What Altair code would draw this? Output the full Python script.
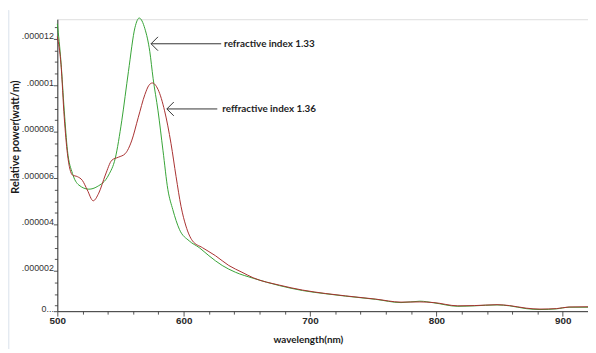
import altair as alt
import pandas as pd

# ---- data (wavelength in nm, power in watt/m) ----
green_wl = [500, 502.9, 505.5, 508, 512, 517, 525, 531.5, 540.6, 545.8, 551, 556.3,
            561.5, 564.8, 569.3, 573.2, 575.8, 579.7, 583.6, 587.5, 591.4, 596.6,
            604.4, 612.3, 620, 630.5, 640.9, 655, 676, 694, 712.5, 728, 752, 772,
            787, 798, 817, 830, 848, 858, 871, 882, 895, 905, 920]
green_pw = [12.65e-6, 11.0e-6, 8.9e-6, 7.2e-6, 6.2e-6, 5.7e-6, 5.52e-6, 5.63e-6, 6.13e-6,
            6.84e-6, 8.47e-6, 10.6e-6, 12.5e-6, 12.9e-6, 12.44e-6, 11.45e-6, 10.3e-6,
            8.9e-6, 7.2e-6, 5.5e-6, 4.64e-6, 3.79e-6, 3.29e-6, 3.0e-6, 2.65e-6, 2.23e-6,
            1.94e-6, 1.68e-6, 1.36e-6, 1.15e-6, 1.01e-6, 0.91e-6, 0.77e-6, 0.63e-6,
            0.69e-6, 0.62e-6, 0.47e-6, 0.49e-6, 0.53e-6, 0.49e-6, 0.37e-6, 0.33e-6,
            0.36e-6, 0.43e-6, 0.43e-6]

red_wl = [500, 502.9, 505.5, 508, 512, 515.9, 519.8, 523.7, 528.4, 532.8, 538, 543.2,
          548.4, 553.7, 558.8, 564, 569.3, 572.5, 575.2, 579.7, 584.9, 590, 594, 597.9,
          601.8, 607, 614.8, 625.2, 635.7, 646.1, 655, 676, 694, 712.5, 728, 752, 772,
          787, 798, 817, 830, 848, 858, 871, 882, 895, 905, 920]
red_pw = [12.1e-6, 10.9e-6, 8.6e-6, 7.05e-6, 6.13e-6, 6.06e-6, 5.9e-6, 5.49e-6, 5.02e-6,
          5.35e-6, 6.13e-6, 6.77e-6, 6.9e-6, 7.05e-6, 7.6e-6, 8.6e-6, 9.6e-6, 10.0e-6,
          10.1e-6, 9.82e-6, 8.9e-6, 7.48e-6, 6.06e-6, 4.78e-6, 3.93e-6, 3.29e-6, 3.0e-6,
          2.65e-6, 2.23e-6, 1.94e-6, 1.70e-6, 1.38e-6, 1.17e-6, 1.02e-6, 0.92e-6,
          0.78e-6, 0.65e-6, 0.66e-6, 0.63e-6, 0.49e-6, 0.50e-6, 0.54e-6, 0.50e-6,
          0.39e-6, 0.35e-6, 0.37e-6, 0.44e-6, 0.45e-6]

labels = ["refractive index 1.33", "reffractive index 1.36"]
arrow_tip_x = [574.2, 586.7]
arrow_end_x = [629.7, 626.6]
text_x = [632.0, 630.5]
arrow_y = [11.79e-6, 8.98e-6]

x_dom = [500, 920]
y_dom = [0.26e-6, 12.85e-6]
x_major = [500, 600, 700, 800, 900]
x_minor = [v for v in range(500, 921, 20) if v % 100 != 0]
y_major = [y_dom[0], 2e-6, 4e-6, 6e-6, 8e-6, 10e-6, 12e-6]
y_minor = [float(f"{k * 5}e-7") for k in range(1, 26) if k % 4 != 0]

green_df = pd.DataFrame({"wl": green_wl, "pw": green_pw})
red_df = pd.DataFrame({"wl": red_wl, "pw": red_pw})
ann_df = pd.DataFrame({"label": labels, "tip": arrow_tip_x, "end": arrow_end_x,
                       "tx": text_x, "y": arrow_y})

FONT = "Lato"
xs = alt.Scale(domain=x_dom, nice=False, zero=False)
ys = alt.Scale(domain=y_dom, nice=False, zero=False)

x_enc = alt.X("wl:Q", scale=xs,
              axis=alt.Axis(orient="bottom", values=x_major, title="wavelength(nm)", tickSize=5,
                            labelFont="Liberation Sans", labelFontSize=10, labelFontWeight="bold",
                            labelColor="#2a2a2a", labelPadding=0, labelFlush=False, labelOverlap=False,
                            titleFont=FONT, titleFontSize=10, titleFontWeight="bold", titleColor="#1a1a1a",
                            titleX=254, titleY=29, titleBaseline="middle", titleAlign="center",
                            domainColor="#333333", tickColor="#555555", grid=False))
y_enc = alt.Y("pw:Q", scale=ys,
              axis=alt.Axis(orient="left", values=y_major, title="Relative power(watt/m)", tickSize=4,
                            labelExpr="datum.value < 1e-6 ? '0...' : substring(format(datum.value, '.6~f'), 1)",
                            labelFont="Liberation Sans", labelFontSize=9, labelColor="#333333",
                            labelPadding=0, labelBaseline="alphabetic", labelFlush=False, labelOverlap=False,
                            titleFont=FONT, titleFontSize=11, titleFontWeight="bold", titleColor="#1a1a1a",
                            titleX=-42, titleY=119, titleAngle=270, titleBaseline="middle", titleAlign="center",
                            domainColor="#333333", tickColor="#555555", grid=False))

minor_axes = alt.Chart(green_df).mark_point(opacity=0).encode(
    x=alt.X("wl:Q", scale=xs, axis=alt.Axis(orient="bottom", values=x_minor, labels=False, tickSize=3,
                                            title=None, domain=False, tickColor="#555555", grid=False)),
    y=alt.Y("pw:Q", scale=ys, axis=alt.Axis(orient="left", values=y_minor, labels=False, tickSize=3,
                                            title=None, domain=False, tickColor="#555555", grid=False)))

green = alt.Chart(green_df).mark_line(color="#35a335", strokeWidth=1, interpolate="monotone").encode(x=x_enc, y=y_enc)
red = alt.Chart(red_df).mark_line(color="#a83030", strokeWidth=1, interpolate="monotone").encode(x="wl:Q", y="pw:Q")

arrows = alt.Chart(ann_df).mark_rule(color="#333333", strokeWidth=1).encode(
    x="tip:Q", x2="end", y="y:Q")
heads = alt.Chart(ann_df).mark_point(shape="M1,-1L0,0L1,1", size=196, filled=False,
                                     color="#333333", strokeWidth=1, opacity=1).encode(
    x="tip:Q", y="y:Q")
texts = alt.Chart(ann_df).mark_text(align="left", baseline="middle", font=FONT, fontSize=10,
                                    fontWeight="bold", color="#1e1e1e").encode(
    x="tx:Q", y="y:Q", text="label:N")

border = alt.Chart(ann_df).mark_rule(color="#e4eaf1", strokeWidth=1.5).encode(
    x=alt.value(-49.5), y=alt.value(-9), y2=alt.value(340))

main = alt.layer(green, red, arrows, heads, texts, border)

chart = alt.layer(minor_axes, main).resolve_axis(x="independent", y="independent").properties(
    width=538, height=296,
    autosize=alt.AutoSizeParams(type="none"),
    padding={"left": 50, "top": 9, "right": 0, "bottom": 36},
).configure_view(stroke=None).configure(background="white")

chart.save("out.html", embed_options={"renderer": "svg", "actions": False})
